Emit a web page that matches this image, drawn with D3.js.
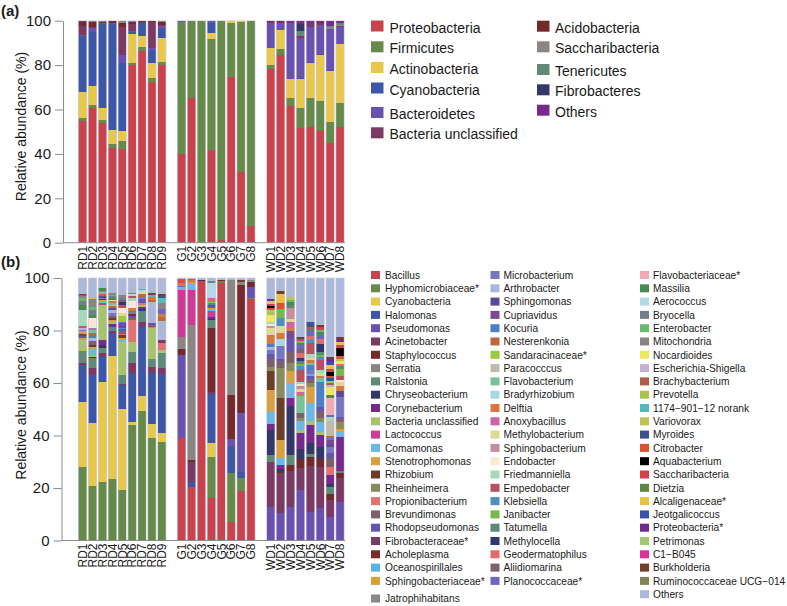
<!DOCTYPE html>
<html><head><meta charset="utf-8">
<script src="https://cdn.jsdelivr.net/npm/d3@7"></script>
<style>
body{margin:0;background:#fff}
svg{display:block}
text{font-family:"Liberation Sans",Arial,Helvetica,sans-serif;fill:#1a1a1a}
</style>
</head><body>
<svg id="c" width="787" height="606"></svg>
<script>
// ---------- categories ----------
const samplesRD = ["RD1","RD2","RD3","RD4","RD5","RD6","RD7","RD8","RD9"];
const samplesG  = ["G1","G2","G3","G4","G5","G6","G7","G8"];
const samplesWD = ["WD1","WD2","WD3","WD4","WD5","WD6","WD7","WD8"];
const samples = [...samplesRD, ...samplesG, ...samplesWD];
const slots = [...samplesRD, "gap1", ...samplesG, "gap2", ...samplesWD];
const yTicks = [0,20,40,60,80,100];

// ---------- panel (a): phyla ----------
const phyla = ["Proteobacteria","Firmicutes","Actinobacteria","Cyanobacteria","Bacteroidetes","Bacteria unclassified",
  "Acidobacteria","Saccharibacteria","Tenericutes","Fibrobacteres","Others"];
const phylaColors = ["#c8434b","#668a48","#e8c84a","#3b57a6","#6952ad","#7b3a63",
  "#742a2b","#8b8682","#5e8a77","#343866","#772a8c"];
//                      RD1  RD2  RD3  RD4  RD5  RD6  RD7  RD8  RD9 | G1   G2   G3   G4   G5   G6   G7   G8 | WD1  WD2  WD3  WD4  WD5  WD6  WD7  WD8
const Proteobacteria  = [55,60.5,53.8,42.8,42.2,80,86.5,72.5,80, 40,65.3,0.3,41.7,1.2,74.8,31.7,7.5, 78.1,84.5,61.6,51.8,52.3,50.5,44.7,52];
const Firmicutes      = [1.2,1.5,1.5,1.5,3.6,1,1.8,1.5,1.5, 59.4,34.7,99.7,49.9,98.8,24.3,67.7,92.5, 1.9,2.7,3.4,8.7,12.7,13.3,9.8,10.8];
const Actinobacteria  = [11.6,8.7,5.2,6.5,4.5,12.8,4.8,7.1,10.5, 0,0,0,2.7,0,0.6,0.6,0, 7.5,8.6,8.6,13.4,15.8,20.7,23,26.5];
const Cyanobacteria   = [25.5,24.2,38,47.7,30.8,1.2,5.7,5.7,4.5, 0,0,0,4.8,0,0,0,0, 0.2,0,0,0.3,0.7,0.5,0.3,0.3];
const Bacteroidetes   = [0.3,1.9,0.3,0.3,3.4,0.5,0.2,1,1.2, 0.4,0,0,0.9,0,0.3,0,0, 11.3,3.3,25.5,17.8,15.5,13,18.3,7.4];
const BacteriaUncl    = [4.2,0.5,0.2,0.2,12.8,3,0.3,11.6,0.3, 0,0,0,0,0,0,0,0, 0.3,0.3,0,1,1.8,0.8,0,0.6];
const Acidobacteria   = [1.5,2.2,0.6,0.8,1.5,1,0.5,0.4,1.5, 0,0,0,0,0,0,0,0, 0.5,0.3,0,0,0,0.4,0,0];
const Saccharibacteria= [0.2,0.3,0.3,0.2,1.2,0.3,0.2,0.2,0.5, 0,0,0,0,0,0,0,0, 0,0,0,0,0,0,1,0.6];
const Tenericutes     = [0.1,0,0,0,0,0,0,0,0, 0,0,0,0,0,0,0,0, 0,0,0,2.3,0,0,0.5,0.6];
const Fibrobacteres   = [0,0,0,0,0,0,0,0,0, 0,0,0,0,0,0,0,0, 0,0,0,3.2,0,0,0,0];
const OthersPhyla     = [0.4,0.2,0.1,0,0,0.2,0,0,0, 0.2,0,0,0,0,0,0,0, 0.2,0.3,0.9,1.5,1.2,0.8,2.4,1.2];
const phylumSeries = [Proteobacteria,Firmicutes,Actinobacteria,Cyanobacteria,Bacteroidetes,BacteriaUncl,
  Acidobacteria,Saccharibacteria,Tenericutes,Fibrobacteres,OthersPhyla];

// ---------- panel (b): genera ----------
const genera = ["Bacillus","Hyphomicrobiaceae*","Cyanobacteria","Halomonas","Pseudomonas","Acinetobacter","Staphylococcus",
 "Serratia","Ralstonia","Chryseobacterium","Corynebacterium","Bacteria unclassified","Lactococcus","Comamonas",
 "Stenotrophomonas","Rhizobium","Rheinheimera","Propionibacterium","Brevundimonas","Rhodopseudomonas",
 "Fibrobacteraceae*","Acholeplasma","Oceanospirillales","Sphingobacteriaceae*","Jatrophihabitans",
 "Microbacterium","Arthrobacter","Sphingomonas","Cupriavidus","Kocuria","Nesterenkonia","Sandaracinaceae*",
 "Paracocccus","Flavobacterium","Bradyrhizobium","Delftia","Anoxybacillus","Methylobacterium","Sphingobacterium",
 "Endobacter","Friedmanniella","Empedobacter","Klebsiella","Janibacter","Tatumella","Methylocella",
 "Geodermatophilus","Aliidiomarina","Planococcaceae*",
 "Flavobacteriaceae*","Massilia","Aerococcus","Bryocella","Enterobacter","Mitochondria","Nocardioides",
 "Escherichia-Shigella","Brachybacterium","Prevotella","1174\u2212901\u221212 norank","Variovorax","Myroides",
 "Citrobacter","Aquabacterium","Saccharibacteria","Dietzia","Alcaligenaceae*","Jeotgalicoccus","Proteobacteria*",
 "Petrimonas","C1\u2212B045","Burkholderia","Ruminococcaceae UCG\u2212014","Others"];
const generaColors = ["#c8434b","#668a48","#e8c84a","#3b57a6","#6952ad","#7b3a63","#742a2b",
 "#8b8682","#5e8a77","#343866","#772a8c","#a6c46b","#cf3a97","#69b8e6",
 "#d9a03e","#6b3f27","#8a8a5a","#e07272","#7d6169","#6654b0",
 "#7a3b67","#7a2b2b","#5bb2e2","#d9a03a","#888888",
 "#7777c1","#a9b8d8","#5b4a99","#7b4a8c","#4b7fc6","#b9693a","#99c841",
 "#c1b9ab","#79c19a","#a8d9e3","#d9783a","#d161a9","#e0d991","#c38f9f",
 "#fbe9d3","#a6d8bb","#b9505e","#4f8fc0","#77b847","#5b8a72","#31386f",
 "#e36a6a","#7f5f6e","#6a68c2",
 "#f1a9b3","#4a8a52","#b3d9e8","#718189","#69b96b","#8a8383","#f0e85a",
 "#c3b3d3","#b35a4b","#a9c351","#52baba","#c2c253","#3b528a",
 "#da5230","#000000","#d2414a","#5b8942","#e8c243","#3a52aa","#722a92",
 "#a3c872","#d9339a","#733f29","#828259","#aabad8"];
const N1174 = "1174\u2212901\u221212 norank", C1B = "C1\u2212B045", RUM = "Ruminococcaceae UCG\u2212014";

const gRD1 = {"Hyphomicrobiaceae*":27.9,"Cyanobacteria":25.0,"Halomonas":14.0,"Acinetobacter":0.6,"Ralstonia":4.8,"Bacteria unclassified":4.1,
 "Stenotrophomonas":0.6,"Rhodopseudomonas":0.8,"Fibrobacteraceae*":0.8,"Oceanospirillales":0.5,"Sphingobacteriaceae*":0.6,"Microbacterium":0.6,
 "Arthrobacter":0.6,"Kocuria":0.4,"Nesterenkonia":0.5,"Friedmanniella":6.0,"Massilia":2.0,"Bryocella":1.5,"Enterobacter":1.0,"Mitochondria":0.8,
 [C1B]:0.4,"Burkholderia":0.5,"Others":6.0};
const gRD2 = {"Hyphomicrobiaceae*":20.9,"Cyanobacteria":24.0,"Halomonas":18.1,"Acinetobacter":2.6,"Ralstonia":3.8,"Chryseobacterium":0.5,
 "Bacteria unclassified":0.5,"Comamonas":2.5,"Stenotrophomonas":1.0,"Rhizobium":0.5,"Brevundimonas":1.5,"Arthrobacter":1.2,"Kocuria":1.0,
 "Nesterenkonia":1.0,"Flavobacterium":1.0,"Anoxybacillus":0.8,"Endobacter":4.0,"Massilia":1.0,"Bryocella":2.0,"Enterobacter":1.0,
 "Mitochondria":3.0,"Variovorax":1.0,"Others":7.1};
const gRD3 = {"Hyphomicrobiaceae*":22.2,"Cyanobacteria":38.1,"Halomonas":9.7,"Acinetobacter":1.3,"Staphylococcus":0.3,"Ralstonia":1.8,
 "Chryseobacterium":1.0,"Corynebacterium":1.8,"Bacteria unclassified":13.5,"Lactococcus":0.8,"Comamonas":0.5,"Stenotrophomonas":0.5,
 "Rhizobium":0.4,"Microbacterium":0.6,"Sphingomonas":0.6,"Nesterenkonia":0.8,"Flavobacterium":0.7,"Anoxybacillus":0.5,"Massilia":1.0,"Others":3.9};
const gRD4 = {"Hyphomicrobiaceae*":23.4,"Cyanobacteria":47.0,"Halomonas":8.8,"Acinetobacter":0.6,"Ralstonia":1.5,"Corynebacterium":1.0,
 "Bacteria unclassified":1.0,"Stenotrophomonas":0.8,"Rhizobium":0.8,"Brevundimonas":0.8,"Microbacterium":1.0,"Arthrobacter":1.0,
 "Sphingomonas":0.8,"Nesterenkonia":0.8,"Paracocccus":0.6,"Flavobacterium":0.6,"Delftia":0.6,"Methylobacterium":0.4,"Massilia":1.0,
 "Bryocella":0.5,"Enterobacter":0.6,"Mitochondria":0.6,"Others":5.8};
const gRD5 = {"Hyphomicrobiaceae*":19.2,"Cyanobacteria":30.9,"Halomonas":9.1,"Acinetobacter":0.6,"Ralstonia":3.2,"Bacteria unclassified":12.7,
 "Comamonas":0.6,"Stenotrophomonas":1.0,"Rhizobium":0.8,"Propionibacterium":0.6,"Brevundimonas":1.0,"Rhodopseudomonas":0.8,
 "Microbacterium":0.6,"Sphingomonas":0.8,"Cupriavidus":0.8,"Kocuria":0.5,"Sandaracinaceae*":2.5,"Methylobacterium":1.0,"Endobacter":2.0,
 "Empedobacter":1.2,"Methylocella":1.0,"Aliidiomarina":0.8,"Bryocella":0.8,"Mitochondria":1.0,"Others":6.5};
const gRD6 = {"Hyphomicrobiaceae*":44.0,"Cyanobacteria":1.0,"Halomonas":18.7,"Acinetobacter":3.8,"Ralstonia":4.4,"Bacteria unclassified":3.8,
 "Propionibacterium":8.3,"Brevundimonas":0.6,"Rhodopseudomonas":0.8,"Acholeplasma":0.8,"Microbacterium":0.8,"Kocuria":0.6,"Delftia":0.8,
 "Endobacter":3.0,"Friedmanniella":0.8,"Empedobacter":1.0,"Aerococcus":0.6,[RUM]:0.6,"Others":5.6};
const gRD7 = {"Hyphomicrobiaceae*":49.3,"Cyanobacteria":5.7,"Halomonas":26.5,"Acinetobacter":1.7,"Ralstonia":4.4,"Chryseobacterium":0.5,
 "Corynebacterium":1.0,"Bacteria unclassified":0.5,"Propionibacterium":1.0,"Rhodopseudomonas":1.5,"Microbacterium":0.6,"Nesterenkonia":1.2,
 "Methylobacterium":0.9,"Aerococcus":0.6,[N1174]:0.6,"Others":4.0};
const gRD8 = {"Hyphomicrobiaceae*":38.9,"Cyanobacteria":5.4,"Halomonas":19.4,"Acinetobacter":2.5,"Ralstonia":2.8,"Bacteria unclassified":11.8,
 "Propionibacterium":0.6,"Brevundimonas":0.8,"Rhodopseudomonas":0.6,"Arthrobacter":8.0,"Nesterenkonia":1.0,"Delftia":1.0,[N1174]:0.6,
 "Burkholderia":0.8,"Others":5.8};
const gRD9 = {"Hyphomicrobiaceae*":37.4,"Cyanobacteria":3.4,"Halomonas":22.5,"Acinetobacter":2.3,"Ralstonia":5.7,"Bacteria unclassified":1.3,
 "Propionibacterium":2.5,"Fibrobacteraceae*":1.2,"Arthrobacter":7.5,"Nesterenkonia":1.5,"Delftia":1.0,"Planococcaceae*":2.0,
 "Mitochondria":2.0,[N1174]:2.0,"Myroides":1.0,"Burkholderia":0.7,"Others":6.0};
const gG1 = {"Bacillus":38.9,"Pseudomonas":31.8,"Staphylococcus":2.1,"Serratia":4.8,"Lactococcus":17.8,"Comamonas":1.2,"Kocuria":0.5,
 "Delftia":1.0,"Citrobacter":1.5,"Others":0.4};
const gG2 = {"Bacillus":20.5,"Halomonas":1.7,"Acinetobacter":7.8,"Staphylococcus":0.8,"Serratia":51.3,"Lactococcus":13.3,"Comamonas":2.5,
 "Stenotrophomonas":0.6,"Delftia":0.8,"Citrobacter":0.4,"Others":0.3};
const gG3 = {"Bacillus":98.8,"Chryseobacterium":0.4,"Others":0.8};
const gG4 = {"Bacillus":16.1,"Hyphomicrobiaceae*":15.8,"Cyanobacteria":5.1,"Halomonas":18.7,"Acinetobacter":1.0,"Staphylococcus":24.1,
 "Ralstonia":3.2,"Chryseobacterium":0.5,"Corynebacterium":0.5,"Lactococcus":2.5,"Comamonas":0.6,"Stenotrophomonas":0.5,
 "Rhodopseudomonas":0.6,"Sphingomonas":0.5,"Kocuria":0.6,"Sandaracinaceae*":0.6,"Delftia":0.7,"Anoxybacillus":0.6,"Aerococcus":6.0,
 "Bryocella":0.6,"Others":1.2};
const gG5 = {"Bacillus":98.2,"Hyphomicrobiaceae*":0.5,"Staphylococcus":0.4,"Others":0.9};
const gG6 = {"Bacillus":7.2,"Hyphomicrobiaceae*":18.6,"Halomonas":9.9,"Pseudomonas":2.8,"Staphylococcus":16.9,"Serratia":44.0,"Others":0.6};
const gG7 = {"Bacillus":19.0,"Hyphomicrobiaceae*":4.7,"Halomonas":2.5,"Pseudomonas":22.3,"Staphylococcus":48.8,"Serratia":1.0,
 "Rhizobium":0.8,"Others":0.9};
const gG8 = {"Bacillus":92.0,"Hyphomicrobiaceae*":0.4,"Pseudomonas":4.3,"Staphylococcus":1.8,"Serratia":0.8,"Others":0.7};
const gWD1 = {"Pseudomonas":12.9,"Acinetobacter":17.1,"Ralstonia":2.6,"Chryseobacterium":9.5,"Corynebacterium":2.3,"Comamonas":4.7,
 "Stenotrophomonas":8.2,"Rhizobium":7.3,"Rheinheimera":1.4,"Brevundimonas":3.1,"Rhodopseudomonas":1.8,"Microbacterium":1.8,
 "Arthrobacter":1.0,"Kocuria":1.0,"Friedmanniella":0.8,"Delftia":3.1,"Anoxybacillus":0.6,"Methylobacterium":2.7,"Sphingobacterium":0.5,
 "Endobacter":1.0,"Nocardioides":2.5,"Prevotella":1.0,"Variovorax":1.0,"Citrobacter":0.6,"Aquabacterium":1.0,"Saccharibacteria":0.6,
 "Alcaligenaceae*":1.2,"Jeotgalicoccus":0.4,"Burkholderia":0.3,"Others":8.0};
const gWD2 = {"Pseudomonas":10.4,"Acinetobacter":15.2,"Staphylococcus":1.0,"Chryseobacterium":0.5,"Corynebacterium":1.7,"Comamonas":2.5,
 "Stenotrophomonas":7.0,"Rhizobium":16.0,"Rheinheimera":11.3,"Brevundimonas":2.6,"Rhodopseudomonas":1.0,"Microbacterium":4.8,
 "Bradyrhizobium":2.6,"Delftia":2.5,"Methylobacterium":2.6,"Klebsiella":3.2,"Janibacter":3.2,"Citrobacter":2.5,"Alcaligenaceae*":3.2,
 "Burkholderia":1.3,"Others":4.9};
const gWD3 = {"Pseudomonas":12.9,"Acinetobacter":13.7,"Staphylococcus":2.2,"Ralstonia":3.8,"Chryseobacterium":18.8,"Corynebacterium":2.8,
 "Comamonas":5.9,"Stenotrophomonas":4.5,"Rheinheimera":2.9,"Brevundimonas":4.4,"Rhodopseudomonas":5.1,"Cupriavidus":2.8,"Delftia":1.2,
 "Anoxybacillus":2.4,"Methylobacterium":0.8,"Sphingobacterium":4.4,"Tatumella":1.2,"Massilia":1.0,"Enterobacter":1.0,"Variovorax":1.0,
 "Others":7.2};
const gWD4 = {"Pseudomonas":19.2,"Acinetobacter":8.3,"Staphylococcus":3.4,"Chryseobacterium":3.9,"Corynebacterium":6.3,
 "Bacteria unclassified":1.0,"Comamonas":3.5,"Rheinheimera":1.0,"Brevundimonas":2.0,"Flavobacterium":6.3,"Delftia":1.0,
 "Anoxybacillus":0.8,"Methylobacterium":1.0,"Sphingobacterium":1.0,"Endobacter":0.8,"Friedmanniella":1.0,"Empedobacter":4.5,
 "Klebsiella":1.5,"Janibacter":0.8,"Tatumella":1.0,"Methylocella":1.2,"Geodermatophilus":2.0,"Aliidiomarina":1.5,"Planococcaceae*":1.5,
 "Massilia":0.8,"Enterobacter":0.8,[C1B]:0.8,"Burkholderia":0.7,"Others":22.4};
const gWD5 = {"Pseudomonas":11.0,"Acinetobacter":17.5,"Staphylococcus":3.5,"Ralstonia":0.8,"Chryseobacterium":4.2,"Corynebacterium":7.0,
 "Bacteria unclassified":1.5,"Comamonas":7.0,"Stenotrophomonas":6.0,"Rheinheimera":1.5,"Brevundimonas":1.5,"Rhodopseudomonas":1.0,
 "Oceanospirillales":0.8,"Microbacterium":1.5,"Kocuria":2.0,"Flavobacterium":1.0,"Delftia":0.8,"Methylobacterium":0.8,
 "Friedmanniella":1.5,"Empedobacter":4.5,"Klebsiella":1.0,"Geodermatophilus":1.5,"Planococcaceae*":2.0,"Massilia":0.8,
 "Brachybacterium":0.8,"Myroides":1.0,"Jeotgalicoccus":0.9,"Others":16.6};
const gWD6 = {"Pseudomonas":12.2,"Acinetobacter":15.9,"Staphylococcus":2.9,"Chryseobacterium":4.7,"Corynebacterium":4.5,
 "Bacteria unclassified":1.2,"Comamonas":3.9,"Rheinheimera":1.5,"Brevundimonas":2.5,"Rhodopseudomonas":1.5,"Kocuria":9.5,
 "Flavobacterium":1.5,"Delftia":1.0,"Methylobacterium":1.0,"Friedmanniella":1.0,"Empedobacter":4.0,"Klebsiella":1.0,"Janibacter":1.0,
 "Tatumella":1.0,"Methylocella":3.0,"Geodermatophilus":2.0,"Planococcaceae*":1.5,"Massilia":1.0,"Enterobacter":1.0,
 "Saccharibacteria":1.0,"Burkholderia":0.8,"Others":17.9};
const gWD7 = {"Pseudomonas":9.1,"Acinetobacter":6.3,"Staphylococcus":2.5,"Ralstonia":2.5,"Chryseobacterium":1.2,"Corynebacterium":3.4,
 "Propionibacterium":3.1,"Brevundimonas":3.2,"Rhodopseudomonas":1.9,"Microbacterium":2.5,"Sphingomonas":1.0,"Cupriavidus":1.5,
 "Kocuria":0.8,"Nesterenkonia":0.8,"Paracocccus":5.7,"Friedmanniella":1.5,"Planococcaceae*":1.0,"Flavobacteriaceae*":6.3,"Massilia":1.0,
 "Nocardioides":3.2,"Escherichia-Shigella":0.8,"Brachybacterium":0.8,"Prevotella":0.8,"Myroides":1.0,"Citrobacter":0.8,
 "Aquabacterium":1.5,"Saccharibacteria":1.0,"Alcaligenaceae*":1.5,"Jeotgalicoccus":1.3,"Proteobacteria*":1.0,"Burkholderia":1.0,
 "Others":30.0};
const gWD8 = {"Pseudomonas":14.8,"Acinetobacter":8.9,"Staphylococcus":1.9,"Ralstonia":1.0,"Corynebacterium":12.9,"Comamonas":1.9,
 "Stenotrophomonas":1.0,"Rheinheimera":2.7,"Brevundimonas":1.0,"Rhodopseudomonas":1.0,"Microbacterium":7.7,"Sphingomonas":2.0,
 "Delftia":2.0,"Methylobacterium":1.5,"Endobacter":1.0,"Empedobacter":1.5,"Janibacter":2.5,"Tatumella":1.0,"Geodermatophilus":1.0,
 "Nocardioides":1.0,"Variovorax":1.0,"Citrobacter":0.8,"Aquabacterium":3.2,"Saccharibacteria":1.3,"Alcaligenaceae*":1.0,
 "Proteobacteria*":1.0,"Burkholderia":1.0,"Others":22.4};
const genusTables = [gRD1,gRD2,gRD3,gRD4,gRD5,gRD6,gRD7,gRD8,gRD9,gG1,gG2,gG3,gG4,gG5,gG6,gG7,gG8,
  gWD1,gWD2,gWD3,gWD4,gWD5,gWD6,gWD7,gWD8];

// ---------- drawing ----------
const FONT = '"Liberation Sans",Arial,Helvetica,sans-serif';
const AX = "#8c8c8c";
const svg = d3.select("#c");
const x = d3.scaleBand().domain(slots).range([77.7, 345]).paddingInner(0.16).paddingOuter(0.08);

function drawPanel(keys, colors, rows, yBottom, yTop, axisX, titleY) {
  const y = d3.scaleLinear().domain([0, 100]).range([yBottom, yTop]);
  const series = d3.stack().keys(keys).value((d, k) => d[k] || 0)(rows);
  const g = svg.append("g");
  g.selectAll("g.layer").data(series).join("g").attr("class", "layer")
    .attr("fill", (d, i) => colors[i])
    .selectAll("rect").data(d => d.filter(s => s[1] - s[0] > 0)).join("rect")
    .attr("x", d => x(d.data.sample)).attr("width", x.bandwidth())
    .attr("y", d => y(d[1])).attr("height", d => y(d[0]) - y(d[1]))
    .attr("shape-rendering", "crispEdges");
  // light bar outline
  g.selectAll("rect.outline").data(rows).join("rect").attr("class", "outline")
    .attr("x", d => x(d.sample)).attr("width", x.bandwidth())
    .attr("y", y(100)).attr("height", y(0) - y(100))
    .attr("fill", "none").attr("stroke", "#d2ccdf").attr("stroke-width", 0.7);

  // y axis
  g.append("g").attr("transform", `translate(${axisX},0)`)
    .call(d3.axisLeft(y).tickValues(yTicks).tickSize(8).tickPadding(4).tickSizeOuter(0))
    .call(s => s.select(".domain").attr("stroke", AX))
    .call(s => s.selectAll(".tick line").attr("stroke", AX))
    .call(s => s.selectAll(".tick text").attr("font-size", 15).attr("font-family", FONT).attr("fill", "#1a1a1a"));
  // x baseline
  g.append("line").attr("x1", axisX).attr("x2", 345).attr("y1", yBottom).attr("y2", yBottom)
    .attr("stroke", AX);
  // x labels
  g.append("g").attr("transform", `translate(0,${yBottom})`)
    .call(d3.axisBottom(x).tickValues(samples).tickSize(0).tickSizeOuter(0))
    .call(s => s.select(".domain").remove())
    .call(s => s.selectAll(".tick text").attr("transform", "rotate(-90)")
      .attr("x", -3).attr("y", 0).attr("dy", "0.36em").attr("text-anchor", "end")
      .attr("font-size", 12).attr("font-family", FONT).attr("fill", "#1a1a1a"));
  // y title
  g.append("text").attr("transform", `translate(25.5,${titleY}) rotate(-90)`)
    .attr("text-anchor", "middle").attr("font-size", 14).text("Relative abundance (%)");
}

// panel (a)
const rowsA = samples.map((s, i) => {
  const r = { sample: s };
  phyla.forEach((p, j) => r[p] = phylumSeries[j][i]);
  return r;
});
drawPanel(phyla, phylaColors, rowsA, 242.7, 20.7, 63, 126.5);

// panel (b)
const rowsB = samples.map((s, i) => Object.assign({ sample: s }, genusTables[i]));
drawPanel(genera, generaColors, rowsB, 540.5, 278, 61.5, 405);

// panel letters
svg.append("text").attr("x", 1).attr("y", 16).attr("font-size", 15).attr("font-weight", "bold").text("(a)");
svg.append("text").attr("x", 1).attr("y", 267).attr("font-size", 15).attr("font-weight", "bold").text("(b)");

// legend (a)
const legA = [
  { sx: 371, tx: 389.5, base: [32.5, 53.3, 74, 94.5, 119, 139.3], items: phyla.slice(0, 6), cols: phylaColors.slice(0, 6) },
  { sx: 537, tx: 555, base: [32.7, 53.3, 76, 96.3, 116.7], items: phyla.slice(6), cols: phylaColors.slice(6) }
];
legA.forEach(c => {
  const g = svg.append("g");
  c.items.forEach((name, i) => {
    g.append("rect").attr("x", c.sx).attr("y", c.base[i] - 12).attr("width", 12.5).attr("height", 11).attr("fill", c.cols[i]);
    g.append("text").attr("x", c.tx).attr("y", c.base[i]).attr("font-size", 14).text(name);
  });
});

// legend (b)
const legB = [
  { sx: 371, tx: 385, from: 0, to: 25 },
  { sx: 490.5, tx: 503.5, from: 25, to: 49 },
  { sx: 640, tx: 653, from: 49, to: 74 }
];
legB.forEach((c, ci) => {
  const g = svg.append("g");
  for (let k = c.from; k < c.to; k++) {
    const i = k - c.from;
    let cy = 275 + i * 13.3;
    if (ci === 0 && i === 24) cy = 598.5;
    g.append("rect").attr("x", c.sx).attr("y", cy - 4).attr("width", 9).attr("height", 8).attr("fill", generaColors[k]);
    g.append("text").attr("x", c.tx).attr("y", cy + 3.7).attr("font-size", 10.2).text(genera[k]);
  }
});
</script>
</body></html>
